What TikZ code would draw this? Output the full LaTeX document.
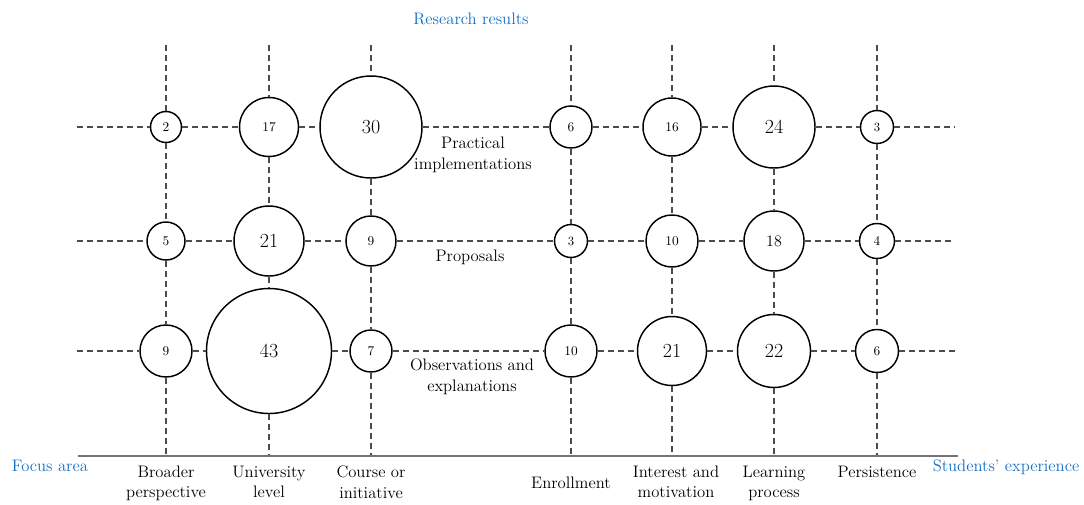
\documentclass[tikz,border=0pt]{standalone}
\usetikzlibrary{positioning}
\definecolor{axis blue}{RGB}{20,112,196}

\begin{document}
\begin{tikzpicture} [
    x=0.75pt, y=-0.75pt,
    bubble/.style = {circle, draw, line width=1.1pt, inner sep=0pt},
    grid line/.style = {black!70, line width=0.8pt, dash pattern=on 4.5pt off 3pt},
    lbl/.style = {align=center, font=\fontsize{12.5}{15.5}\selectfont},
    blue lbl/.style = {lbl, text=axis blue}
]
    \useasboundingbox (0,0) rectangle (1084,504);

    % bubbles: row/column/count/radius in px/font size
    \foreach \r/\c/\v/\rad/\fs in {
        1/1/2/15.5/10,  1/2/17/29.5/10, 1/3/30/51/15,   1/4/6/21/10,
        1/5/16/29/10,   1/6/24/41/15,   1/7/3/16.5/9.5,
        2/1/5/19/10,    2/2/21/35/15,   2/3/9/25/10,    2/4/3/16.5/9.5,
        2/5/10/26/10,   2/6/18/30/12,   2/7/4/17.5/10,
        3/1/9/26/10,    3/2/43/62.5/15, 3/3/7/21/10,    3/4/10/26/10,
        3/5/21/34.5/15, 3/6/22/36.5/15, 3/7/6/21.5/10
    }{
        \pgfmathsetmacro\xc{{0,166,269,371,571,672,774,877}[\c]}
        \pgfmathsetmacro\yc{{0,127,241,351}[\r]}
        \node[bubble, minimum size=\rad*1.5pt, font=\fontsize{\fs}{\fs}\selectfont]
            (n-\r-\c) at (\xc,\yc) {\v};
    }

    % free ends of the dashed lines
    \coordinate (l-1) at (77,127);  \coordinate (r-1) at (955,127);
    \coordinate (l-2) at (77,241);  \coordinate (r-2) at (955,241);
    \coordinate (l-3) at (77,351);  \coordinate (r-3) at (955,351);
    \foreach \c/\x in {1/166,2/269,3/371,4/571,5/672,6/774,7/877} {
        \coordinate (t-\c) at (\x,45);
        \coordinate (b-\c) at (\x,456);
    }

    \foreach \r in {1,2,3}
        \draw[grid line] (l-\r) -- (n-\r-1) -- (n-\r-2) -- (n-\r-3) -- (n-\r-4)
            -- (n-\r-5) -- (n-\r-6) -- (n-\r-7) -- (r-\r);
    \foreach \c in {1,...,7}
        \draw[grid line] (t-\c) -- (n-1-\c) -- (n-2-\c) -- (n-3-\c) -- (b-\c);

    % axis
    \coordinate (ax-l) at (78,456);
    \coordinate (ax-r) at (958,456);
    \draw[black!55, line width=0.8pt] (ax-l) -- (ax-r);

    \node[blue lbl] (focus) at (50,466) {Focus area};
    \node[blue lbl] (students) at (1006,467) {Students' experience};
    \node[blue lbl] (results) at (471,19) {Research results};

    \node[lbl] (practical) at (473,155) {Practical\\implementations};
    \node[lbl] (proposals) at (470,257) {Proposals};
    \node[lbl] (observations) at (472,377) {Observations and\\explanations};

    \node[lbl, anchor=north] (broader) at (166,461) {Broader\\perspective};
    \node[lbl, anchor=north] (university) at (269,461) {University\\level};
    \node[lbl, anchor=north] (course) at (371,461) {Course or\\initiative};
    \node[lbl] (enrollment) at (571,483) {Enrollment};
    \node[lbl, anchor=north] (interest) at (676,461) {Interest and\\motivation};
    \node[lbl, anchor=north] (learning) at (774,461) {Learning\\process};
    \node[lbl, anchor=north] (persistence) at (877,461) {Persistence};
\end{tikzpicture}
\end{document}
